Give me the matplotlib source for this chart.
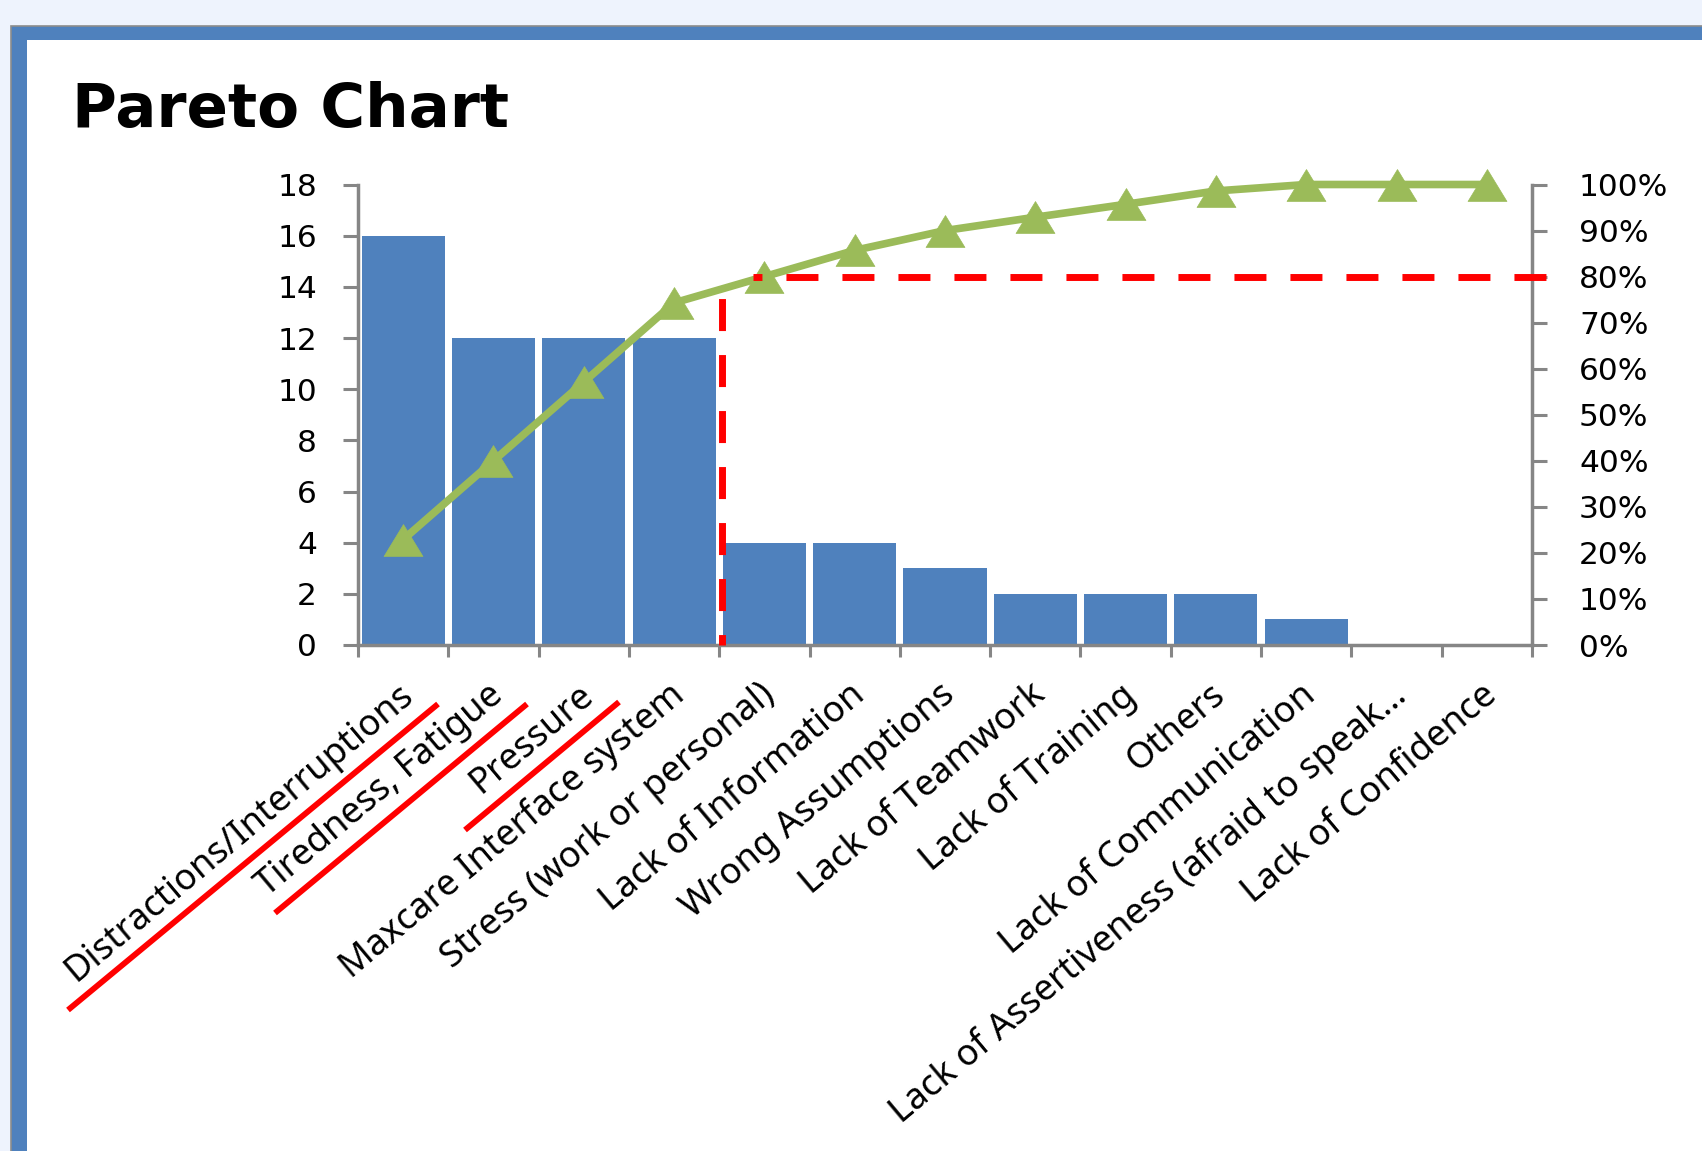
import numpy as np
import matplotlib
matplotlib.use("Agg")
import matplotlib.pyplot as plt
from matplotlib.patches import Rectangle
from matplotlib.lines import Line2D
from matplotlib.path import Path
from matplotlib.transforms import ScaledTranslation

# ---------------- data ----------------
categories = [
    "Distractions/Interruptions",
    "Tiredness, Fatigue",
    "Pressure",
    "Maxcare Interface system",
    "Stress (work or personal)",
    "Lack of Information",
    "Wrong Assumptions",
    "Lack of Teamwork",
    "Lack of Training",
    "Others",
    "Lack of Communication",
    "Lack of Assertiveness (afraid to speak\u2026",
    "Lack of Confidence",
]
counts = [16, 12, 12, 12, 4, 4, 3, 2, 2, 2, 1, 0, 0]
cumulative_pct = [22.9, 40.0, 57.1, 74.3, 80.0, 85.7, 90.0, 92.9, 95.7, 98.6, 100.0, 100.0, 100.0]
left_ticks = [0, 2, 4, 6, 8, 10, 12, 14, 16, 18]
right_ticks = [0, 10, 20, 30, 40, 50, 60, 70, 80, 90, 100]
right_tick_labels = ["0%", "10%", "20%", "30%", "40%", "50%", "60%", "70%", "80%", "90%", "100%"]
threshold_pct = 80
cutoff_index = 3
title = "Pareto Chart"

# hand-drawn red underlines (figure pixel coords, from top-left)
underlines = [((68, 1010), (438, 704)), ((275, 913), (527, 704)), ((465, 830), (619, 702))]

# ---------------- style ----------------
plt.rcParams["font.family"] = ["Noto Sans", "DejaVu Sans"]
plt.rcParams["lines.scale_dashes"] = False
W, H = 1702, 1151
BAR = "#4F81BD"
GREEN = "#9BBB59"
AXC = "#868686"
RED = "#FF0000"

fig = plt.figure(figsize=(W / 100, H / 100), dpi=100, facecolor="#EEF3FD")

# chart frame
fig.patches.append(Rectangle((11 / W, -0.05), 1.1, (1 - 26 / H) + 0.05, transform=fig.transFigure,
                             facecolor=BAR, edgecolor="#8C8C8C", lw=1.2, zorder=-5))
fig.patches.append(Rectangle((27 / W, -0.05), 1.1, (1 - 40 / H) + 0.05, transform=fig.transFigure,
                             facecolor="white", edgecolor="none", zorder=-4))

fig.text(72 / W, 1 - 127 / H, title, fontsize=44, fontweight="bold", family="DejaVu Sans",
         ha="left", va="baseline", color="black")

ax = fig.add_axes([358 / W, 1 - 645 / H, (1532 - 358) / W, (645 - 184.5) / H])
ax.set_facecolor("none")
x = np.arange(len(categories))
ax.bar(x, counts, width=0.92, color=BAR, edgecolor="none", zorder=2)
ax.set_xlim(-0.5, len(categories) - 0.5)
ax.set_ylim(0, 18)
ax.set_yticks(left_ticks)
ax.set_yticklabels([str(v) for v in left_ticks], family="DejaVu Sans")

for side in ["left", "bottom", "right"]:
    ax.spines[side].set_color(AXC)
    ax.spines[side].set_linewidth(2.5)
ax.spines["top"].set_visible(False)

ax.set_xticks(np.arange(-0.5, len(categories), 1.0))
ax.set_xticklabels([])
ax.set_xticks(x, minor=True)
ax.set_xticklabels(categories, minor=True, rotation=40, ha="right", va="top",
                   rotation_mode="anchor", fontsize=26)
ax.tick_params(axis="x", which="major", direction="out", length=8.6, width=2.2, color=AXC)
ax.tick_params(axis="x", which="minor", length=0, pad=23)
ax.tick_params(axis="y", direction="out", length=10.8, width=2.2, color=AXC,
               labelsize=22.5, pad=18.7)
off = ScaledTranslation(-6 / 100, 0, fig.dpi_scale_trans)
for lbl in ax.get_xticklabels(minor=True):
    lbl.set_transform(lbl.get_transform() + off)

ax2 = ax.twinx()
ax2.set_ylim(0, 100)
ax2.set_yticks(right_ticks)
ax2.set_yticklabels(right_tick_labels, family="DejaVu Sans")
for s in ax2.spines.values():
    s.set_visible(False)
ax2.tick_params(axis="y", direction="out", length=10.8, width=2.2, color=AXC,
                labelsize=22.5, pad=23)

tri = Path([(0, 0.82), (-1, -0.82), (1, -0.82), (0, 0.82)],
           [Path.MOVETO, Path.LINETO, Path.LINETO, Path.CLOSEPOLY])
ax2.plot(x, cumulative_pct, color=GREEN, lw=5.5, marker=tri, markersize=28,
         markerfacecolor=GREEN, markeredgecolor=GREEN, markeredgewidth=0.5,
         solid_joinstyle="round", zorder=3, clip_on=False)

# 80% threshold lines
ax2.plot([cutoff_index + 0.53, cutoff_index + 0.53], [threshold_pct, 0], color=RED, lw=5,
         linestyle=(24.8, (23.04, 17.28)), solid_capstyle="butt", dash_capstyle="butt",
         zorder=4, clip_on=False)
ax2.plot([cutoff_index + 0.87, len(categories) - 0.33], [threshold_pct, threshold_pct], color=RED, lw=5,
         linestyle=(16.6, (23.04, 17.28)), dash_capstyle="butt", zorder=4, clip_on=False)

for (x0, y0), (x1, y1) in underlines:
    fig.add_artist(Line2D([x0 / W, x1 / W], [1 - y0 / H, 1 - y1 / H], transform=fig.transFigure,
                          color=RED, lw=4.2, solid_capstyle="butt"))

fig.savefig("out.png", dpi=100, facecolor=fig.get_facecolor())
